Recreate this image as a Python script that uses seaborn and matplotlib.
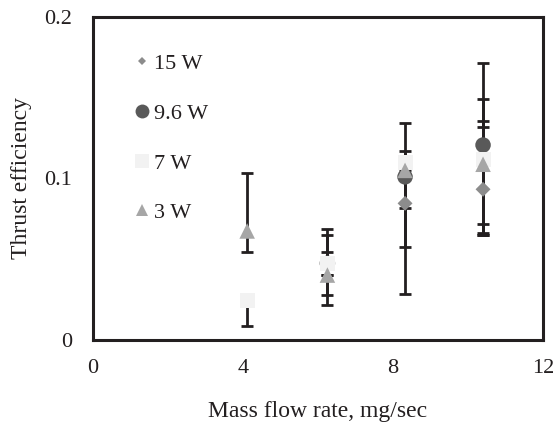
import matplotlib
matplotlib.use("Agg")
import matplotlib.pyplot as plt
from matplotlib.lines import Line2D
import numpy as np
import pandas as pd
import seaborn as sns

# Mass flow rate positions (mg/sec) for each power level
flow_15w = [6.25, 8.32, 10.40]
flow_96w = [6.25, 8.32, 10.40]
flow_7w = [4.11, 6.25, 8.32, 10.40]
flow_3w = [4.11, 6.25, 8.32, 10.40]

# Thrust efficiency values
eff_15w = [0.0475, 0.0846, 0.0933]
eff_96w = [0.0475, 0.101, 0.1207]
eff_7w = [0.0243, 0.0475, 0.110, 0.1115]
eff_3w = [0.0675, 0.0402, 0.105, 0.1088]

# Error bar extents (below, above)
err_lo_15w = [0.0196, 0.0561, 0.0283]
err_hi_15w = [0.0175, 0.0496, 0.0388]
err_lo_96w = [0.0258, 0.0432, 0.0491]
err_hi_96w = [0.0212, 0.0162, 0.0506]
err_lo_7w = [0.0154, 0.0, 0.0, 0.045]
err_hi_7w = [0.0, 0.0068, 0.0, 0.0377]
err_lo_3w = [0.0132, 0.0, 0.0235, 0.0438]
err_hi_3w = [0.0361, 0.0, 0.0, 0.027]

series_labels = ["15 W", "9.6 W", "7 W", "3 W"]
series_markers = ["D", "o", "s", "^"]
series_colors = ["#8c8c8c", "#595959", "#f2f2f2", "#a6a6a6"]
series_sizes = [58, 125, 117, 125]
legend_msizes = [4.5, 10.0, 9.5, 9.0]

flows = [flow_15w, flow_96w, flow_7w, flow_3w]
effs = [eff_15w, eff_96w, eff_7w, eff_3w]
err_lo = [err_lo_15w, err_lo_96w, err_lo_7w, err_lo_3w]
err_hi = [err_hi_15w, err_hi_96w, err_hi_7w, err_hi_3w]

df = pd.concat(
    [pd.DataFrame({"flow": f, "eff": e, "lo": lo, "hi": hi, "power": lab})
     for f, e, lo, hi, lab in zip(flows, effs, err_lo, err_hi, series_labels)],
    ignore_index=True,
)

sns.set_theme(style="white")
plt.rcParams["font.family"] = ["Liberation Serif", "DejaVu Serif"]
plt.rcParams["font.size"] = 16

fig = plt.figure(figsize=(5.58, 4.28), dpi=100)
ax = fig.add_axes([0.1667, 0.2056, 0.8065, 0.7548])

# error bars underneath the markers
for lab in series_labels:
    sub = df[df["power"] == lab]
    ax.errorbar(sub["flow"], sub["eff"], yerr=[sub["lo"], sub["hi"]],
                fmt="none", ecolor="#231f20", elinewidth=2.0,
                capsize=4.6, capthick=2.0, zorder=2)

sns.scatterplot(data=df, x="flow", y="eff", hue="power", style="power",
                hue_order=series_labels, style_order=series_labels,
                palette=dict(zip(series_labels, series_colors)),
                markers=dict(zip(series_labels, series_markers)),
                size="power", sizes=dict(zip(series_labels, series_sizes)),
                size_order=series_labels,
                linewidth=0, legend=False, ax=ax, zorder=3)

ax.set_xlim(0, 12)
ax.set_ylim(0, 0.2)
ax.set_xticks([0, 4, 8, 12])
ax.set_yticks([0, 0.1, 0.2])
ax.set_xticklabels(["0", "4", "8", "12"])
ax.set_yticklabels(["0", "0.1", "0.2"])
ax.tick_params(axis="both", direction="in", length=5, width=2,
               color="#231f20", labelsize=16, labelcolor="#231f20")
ax.tick_params(axis="x", pad=14)
ax.tick_params(axis="y", pad=15)
for sp in ax.spines.values():
    sp.set_color("#231f20")
    sp.set_linewidth(2.2)

ax.set_xlabel("Mass flow rate, mg/sec", fontsize=17, color="#231f20", labelpad=16)
ax.set_ylabel("Thrust efficiency", fontsize=17, color="#231f20", labelpad=9)

handles = [Line2D([], [], linestyle="none", marker=m, markersize=ms,
                  markerfacecolor=c, markeredgewidth=0)
           for m, c, ms in zip(series_markers, series_colors, legend_msizes)]
ax.legend(handles, series_labels, loc="upper left", bbox_to_anchor=(0.072, 0.914),
          frameon=False, fontsize=16, labelspacing=1.31, handlelength=0.7,
          handletextpad=0.2, borderaxespad=0.0, labelcolor="#231f20")

fig.savefig("out.png", dpi=100)
